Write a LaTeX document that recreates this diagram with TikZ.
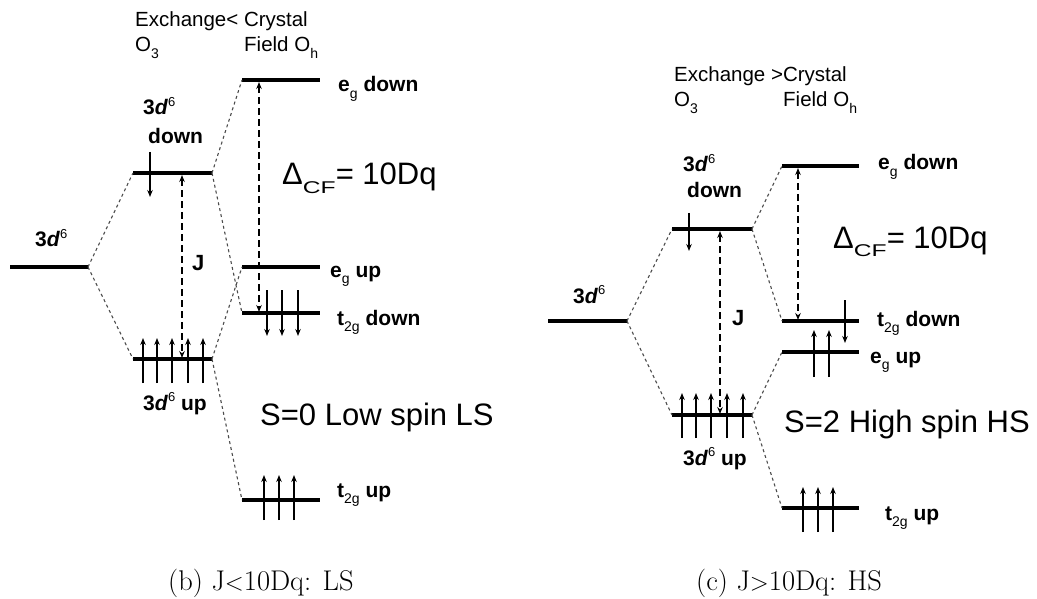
\documentclass[tikz,border=0pt]{standalone}
\usepackage{fontspec}
\usetikzlibrary{arrows.meta}
\newfontfamily\arial{Liberation Sans}
\newcommand\lsub[1]{\raisebox{-0.32em}{\fontsize{14}{14}\selectfont\mdseries #1}}
\newcommand\dsix{3\textit{d}\raisebox{0.42em}{\fontsize{13}{13}\selectfont\mdseries 6}}
\newcommand\dcf{Δ\raisebox{-0.28em}{\scalebox{1.45}[1]{\fontsize{17}{17}\selectfont CF}}= 10Dq}
\tikzset{
  lvl/.style={line width=3.4pt},
  spin/.style={line width=1.2pt,-{Stealth[length=7pt,width=5.5pt]}},
  corr/.style={line width=1.1pt,black!70,dash pattern=on 3pt off 3pt},
  gap/.style={line width=1.2pt,dash pattern=on 7pt off 4pt,{Stealth[length=7pt,width=5.5pt]}-{Stealth[length=7pt,width=5.5pt]}},
  lbl/.style={anchor=base west,inner sep=0pt,font=\arial\bfseries\fontsize{21}{23}\selectfont},
  hdr/.style={anchor=base west,inner sep=0pt,font=\arial\fontsize{20.5}{22}\selectfont},
  big/.style={anchor=base west,inner sep=0pt,font=\arial\fontsize{31}{33}\selectfont},
  captext/.style={anchor=base west,inner sep=0pt,font=\fontsize{28.5}{31}\selectfont}
}
\begin{document}
\begin{tikzpicture}[x=1pt,y=-1pt]
\useasboundingbox (0,0) rectangle (1037,599);
\foreach \n/\a/\b/\y in {L3d/10/88/267, Ldn/133/212/173, Lup/133/212/359, Legd/242/320/80, Legu/242/320/267, Lt2d/242/320/313, Lt2u/242/320/500,
  R3d/548/627/321, Rdn/672/752/229, Rup/672/752/415, Regd/782/859/166, Rt2d/782/859/321, Regu/782/859/352, Rt2u/782/859/508}{
  \coordinate (\n-w) at (\a,\y);
  \coordinate (\n-e) at (\b,\y);
  \draw[lvl] (\n-w) -- (\n-e);
}
% correlation lines
\draw[corr] (L3d-e) -- (Ldn-w);
\draw[corr] (L3d-e) -- (Lup-w);
\draw[corr] (Ldn-e) -- (Legd-w);
\draw[corr] (Ldn-e) -- (Lt2d-w);
\draw[corr] (Lup-e) -- (Legu-w);
\draw[corr] (Lup-e) -- (Lt2u-w);
\draw[corr] (R3d-e) -- (Rdn-w);
\draw[corr] (R3d-e) -- (Rup-w);
\draw[corr] (Rdn-e) -- (Regd-w);
\draw[corr] (Rdn-e) -- (Rt2d-w);
\draw[corr] (Rup-e) -- (Regu-w);
\draw[corr] (Rup-e) -- (Rt2u-w);
% gap arrows
\coordinate (LJt) at (182,175); \coordinate (LJb) at (182,358);
\draw[gap] (LJt) -- (LJb);
\coordinate (LCt) at (259,82); \coordinate (LCb) at (259,312);
\draw[gap] (LCt) -- (LCb);
\coordinate (RJt) at (720,231); \coordinate (RJb) at (720,414);
\draw[gap] (RJt) -- (RJb);
\coordinate (RCt) at (798,168); \coordinate (RCb) at (798,320);
\draw[gap] (RCt) -- (RCb);
% spins left
\draw[spin] (150,152) -- (150,197);
\foreach \x in {143,157,172,188,203} \draw[spin] (\x,383) -- (\x,338);
\foreach \x in {267,282,298} \draw[spin] (\x,290) -- (\x,336);
\foreach \x in {264,279,294} \draw[spin] (\x,520) -- (\x,475);
% spins right
\draw[spin] (689,213) -- (689,251);
\foreach \x in {682,696,711,727,743} \draw[spin] (\x,438) -- (\x,393);
\draw[spin] (845,300) -- (845,343);
\foreach \x in {814,829} \draw[spin] (\x,377) -- (\x,330);
\foreach \x in {803,818,833} \draw[spin] (\x,532) -- (\x,487);
% labels left
\node[hdr] (lh1) at (135,27) {Exchange< Crystal};
\node[hdr] (lh2) at (135,52) {O\lsub{3}};
\node[hdr] (lh3) at (244,52) {Field O\lsub{h}};
\node[lbl] (l1) at (338,92) {e\lsub{g} down};
\node[lbl] (l2) at (143,115) {\dsix};
\node[lbl] (l3) at (148,144) {down};
\node[lbl] (l4) at (35,247) {\dsix};
\node[lbl,font=\arial\bfseries\fontsize{22}{24}\selectfont] (l5) at (192,270) {J};
\node[lbl] (l6) at (330,277) {e\lsub{g} up};
\node[big] (l7) at (282,185) {\dcf};
\node[lbl] (l8) at (337,325) {t\lsub{2g} down};
\node[lbl] (l9) at (143,410) {\dsix{} up};
\node[big] (l10) at (260,425) {S=0 Low spin LS};
\node[lbl] (l11) at (337,497) {t\lsub{2g} up};
\node[captext] (c1) at (168,590) {(b) J$<$10Dq: LS};
% labels right
\node[hdr] (rh1) at (674,82) {Exchange >Crystal};
\node[hdr] (rh2) at (674,107) {O\lsub{3}};
\node[hdr] (rh3) at (783,107) {Field O\lsub{h}};
\node[lbl] (r1) at (878,170) {e\lsub{g} down};
\node[lbl] (r2) at (683,172) {\dsix};
\node[lbl] (r3) at (687,198) {down};
\node[big] (r4) at (833,248) {\dcf};
\node[lbl] (r5) at (573,303) {\dsix};
\node[lbl,font=\arial\bfseries\fontsize{22}{24}\selectfont] (r6) at (732,325) {J};
\node[lbl] (r7) at (877,326) {t\lsub{2g} down};
\node[lbl] (r8) at (870,363) {e\lsub{g} up};
\node[big] (r9) at (784,432) {S=2 High spin HS};
\node[lbl] (r10) at (683,465) {\dsix{} up};
\node[lbl] (r11) at (885,520) {t\lsub{2g} up};
\node[captext] (c2) at (696,590) {(c) J$>$10Dq: HS};
\end{tikzpicture}
\end{document}
